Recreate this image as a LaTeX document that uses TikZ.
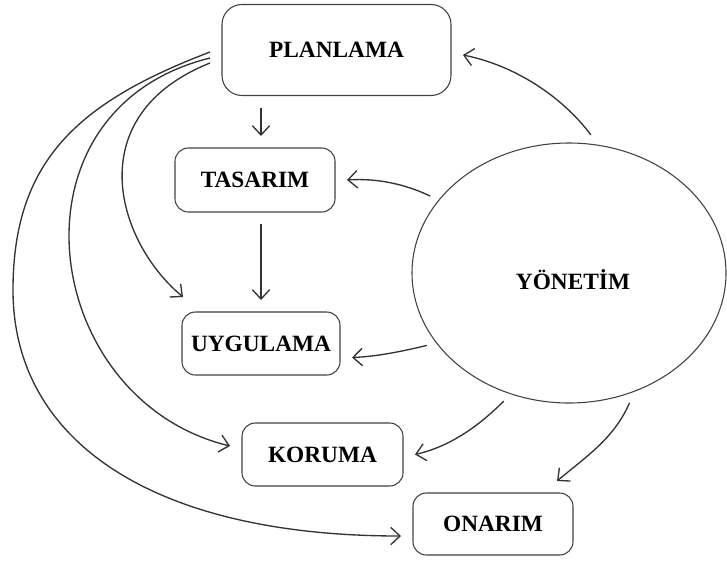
\documentclass[tikz,border=0pt]{standalone}
\usepackage{fontspec}
\setmainfont{Liberation Serif}
\usetikzlibrary{shapes.geometric,arrows.meta,calc}

\begin{document}
\begin{tikzpicture}[x=0.75pt,y=0.75pt,yscale=-1,xscale=1,
  box/.style={draw=black!75,line width=0.8pt,rounded corners=10pt,inner sep=0pt,outer sep=9pt,font=\fontsize{17.5}{20}\selectfont\bfseries},
  arr/.style={draw=black!80,line width=1pt,-{Straight Barb[length=7pt,width=13pt]}}]
\useasboundingbox (0,0) rectangle (727,561);

%Boxes
\node[box,rounded corners=15pt,minimum width=171.75pt,minimum height=68.25pt] (plan) at (336.5,50) {PLANLAMA};
\node[box,minimum width=120pt,minimum height=48pt] (tas) at (255,180) {TASARIM};
\node[box,minimum width=118.5pt,minimum height=47.25pt] (uyg) at (261,343.5) {UYGULAMA};
\node[box,minimum width=120.75pt,minimum height=47.25pt] (kor) at (322.5,454.5) {KORUMA};
\node[box,minimum width=120pt,minimum height=46.5pt] (ona) at (493,524) {ONARIM};
%Ellipse
\node[ellipse,draw=black!75,line width=0.8pt,inner sep=0pt,outer sep=7pt,minimum width=235.5pt,minimum height=195pt] (yon) at (569,273) {};
\node[font=\fontsize{17.5}{20}\selectfont\bfseries] (yontxt) at (573,280) {YÖNETİM};

%Straight arrows
\draw[arr] (plan.south -| uyg.north) -- (tas.north -| uyg.north);
\draw[arr] (tas.south -| uyg.north) -- (uyg.north);

%Arrows from the ellipse
\draw[arr] (yon.81) .. controls +(-30,-40) and +(50,10) .. ($(plan.east)+(0,5)$);
\draw[arr] (yon.151) .. controls +(-25,-12) and +(30,-2) .. (tas.east);
\draw[arr] (yon.207) .. controls +(-25,6) and +(25,-1) .. ($(uyg.east)+(0,14)$);
\draw[arr] (yon.243) .. controls +(-25,25) and +(35,-8) .. (kor.east);
\draw[arr] (yon.295) .. controls +(-15,35) and +(30,-25) .. ($(ona.north)+(64,0)$);

%Curves from PLANLAMA
\coordinate (outerbend) at (13,290);
\draw[arr] ($(plan.west)+(0,13)$) .. controls +(-130,52) and +(-68,-57) .. ($(uyg.north west)+(13,-3)$);
\draw[arr] ($(plan.west)+(0,8)$) .. controls +(-210,52) and +(-190,-46) .. ($(kor.west)+(0,-8.5)$);
\draw[arr] ($(plan.west)+(0,2)$) .. controls +(-131,50) and +(0,-130) .. (outerbend)
  .. controls +(0,150) and +(-250,0) .. ($(ona.west)+(0,12)$);

\end{tikzpicture}
\end{document}
